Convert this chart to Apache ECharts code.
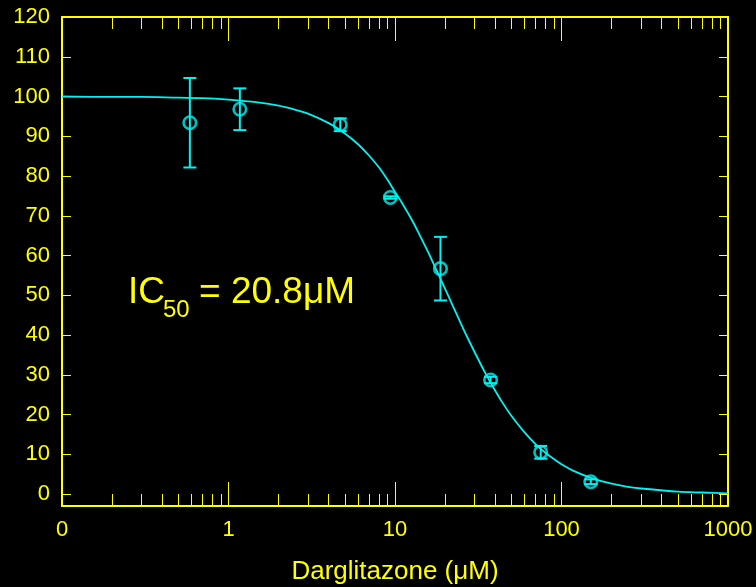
<!DOCTYPE html>
<html>
<head>
<meta charset="utf-8">
<script src="https://cdn.jsdelivr.net/npm/echarts@6/dist/echarts.min.js"></script>
<style>html,body{margin:0;padding:0;background:#000;}#c{width:756px;height:587px;}</style>
</head>
<body>
<div id="c"></div>
<script>
// Measured points: concentration (uM), % response, error (+/-)
const concentrations = [0.586, 1.17, 4.69, 9.375, 18.75, 37.5, 75, 150];
const responses = [93.4, 96.8, 92.9, 74.6, 56.7, 28.7, 10.5, 3.1];
const errors = [11.25, 5.25, 1.6, 0.3, 8.0, 0.8, 1.6, 0.6];

// Fitted curve
const curveX = [0.1, 0.2, 0.3, 0.5, 0.7, 1, 1.5, 2, 2.5, 3, 4, 5, 6, 7, 8, 9, 10, 11, 12, 13, 14, 15, 16, 17, 18, 20, 22, 25, 27, 30, 35, 40, 45, 50, 60, 70, 80, 90, 100, 120, 150, 200, 250, 300, 500, 700, 1000];
const curveY = [100.0, 99.9, 99.9, 99.7, 99.6, 99.2, 98.5, 97.7, 96.7, 95.7, 93.3, 90.7, 88.0, 85.1, 82.2, 79.1, 76.0, 73.3, 70.6, 68.0, 65.3, 62.8, 60.4, 58.0, 55.8, 51.6, 47.8, 42.7, 39.7, 35.8, 30.3, 26.0, 22.5, 19.7, 15.5, 12.5, 10.4, 8.8, 7.5, 5.7, 4.1, 2.6, 1.8, 1.4, 0.6, 0.4, 0.2];

// Axis ticks
const xMajorTicks = [0.1, 1, 10, 100, 1000];
const xMinorTicks = [];
[0.1, 1, 10, 100].forEach(d => { for (let k = 2; k <= 9; k++) xMinorTicks.push(+(d * k).toPrecision(3)); });
const xTickLabels = {0.1: '0', 1: '1', 10: '10', 100: '100', 1000: '1000'};
const yTicks = [0, 10, 20, 30, 40, 50, 60, 70, 80, 90, 100, 110, 120];

const YEL = '#ffff00';
const CY = '#00f2f2';
const FONT = '"Liberation Sans", Arial, sans-serif';

const chart = echarts.init(document.getElementById('c'), null, {renderer: 'canvas'});

function xAxisDef(pos, ticks, len, showLine, showLabel, name) {
  return {
    type: 'log', logBase: 10, min: 0.1, max: 1000, position: pos,
    name: name || '', nameLocation: 'middle', nameGap: 53,
    nameTextStyle: {color: YEL, fontSize: 26, fontFamily: FONT},
    axisLine: {show: showLine, onZero: false, lineStyle: {color: YEL, width: 2}},
    axisTick: {show: true, inside: true, length: len, customValues: ticks, lineStyle: {color: YEL, width: 1}},
    axisLabel: {show: showLabel, customValues: xMajorTicks, margin: 13, color: YEL, fontSize: 22, fontFamily: FONT,
      formatter: v => xTickLabels[v] !== undefined ? xTickLabels[v] : ''},
    splitLine: {show: false}, minorTick: {show: false}, minorSplitLine: {show: false}
  };
}
function yAxisDef(pos, showLabel) {
  return {
    type: 'value', min: -3, max: 120, position: pos,
    axisLine: {show: true, onZero: false, lineStyle: {color: YEL, width: 2}},
    axisTick: {show: true, inside: true, length: 9, customValues: yTicks, lineStyle: {color: YEL, width: 1}},
    axisLabel: {show: showLabel, customValues: yTicks, margin: 12, color: YEL, fontSize: 22, fontFamily: FONT},
    splitLine: {show: false}
  };
}

chart.setOption({
  backgroundColor: '#000',
  animation: false,
  grid: {left: 62, top: 17, width: 666, height: 489, containLabel: false, outerBoundsMode: 'none'},
  xAxis: [
    xAxisDef('bottom', xMajorTicks, 24, true, true, 'Darglitazone (\u03bcM)'),
    xAxisDef('bottom', xMinorTicks, 12, false, false),
    xAxisDef('top', xMajorTicks, 24, true, false),
    xAxisDef('top', xMinorTicks, 12, false, false)
  ],
  yAxis: [yAxisDef('left', true), yAxisDef('right', false)],
  graphic: [
    {type: 'text', left: 128, top: 274, style: {text: 'IC', fill: YEL, fontSize: 37, fontFamily: FONT}},
    {type: 'text', left: 163, top: 298, style: {text: '50', fill: YEL, fontSize: 24, fontFamily: FONT}},
    {type: 'text', left: 199, top: 274, style: {text: '= 20.8\u03bcM', fill: YEL, fontSize: 37, fontFamily: FONT}}
  ],
  series: [
    {
      type: 'line', xAxisIndex: 0, yAxisIndex: 0, smooth: 0.3, symbol: 'none',
      data: curveX.map((x, i) => [x, curveY[i]]),
      lineStyle: {color: CY, width: 1.8}, z: 2
    },
    {
      type: 'custom', xAxisIndex: 0, yAxisIndex: 0, z: 3,
      data: concentrations.map((x, i) => [x, responses[i], errors[i]]),
      renderItem: function (params, api) {
        const x = api.value(0), y = api.value(1), e = api.value(2);
        const top = api.coord([x, y + e]);
        const bot = api.coord([x, y - e]);
        const hw = 6.5;
        const st = {stroke: CY, lineWidth: 2};
        return {type: 'group', children: [
          {type: 'line', shape: {x1: top[0], y1: top[1], x2: bot[0], y2: bot[1]}, style: st},
          {type: 'line', shape: {x1: top[0] - hw, y1: top[1], x2: top[0] + hw, y2: top[1]}, style: st},
          {type: 'line', shape: {x1: bot[0] - hw, y1: bot[1], x2: bot[0] + hw, y2: bot[1]}, style: st}
        ]};
      }
    },
    {
      type: 'scatter', xAxisIndex: 0, yAxisIndex: 0, z: 4,
      symbol: 'circle', symbolSize: 12.5,
      data: concentrations.map((x, i) => [x, responses[i]]),
      itemStyle: {color: 'rgba(0,0,0,0)', borderColor: CY, borderWidth: 2.6}
    }
  ]
});
</script>
</body>
</html>
